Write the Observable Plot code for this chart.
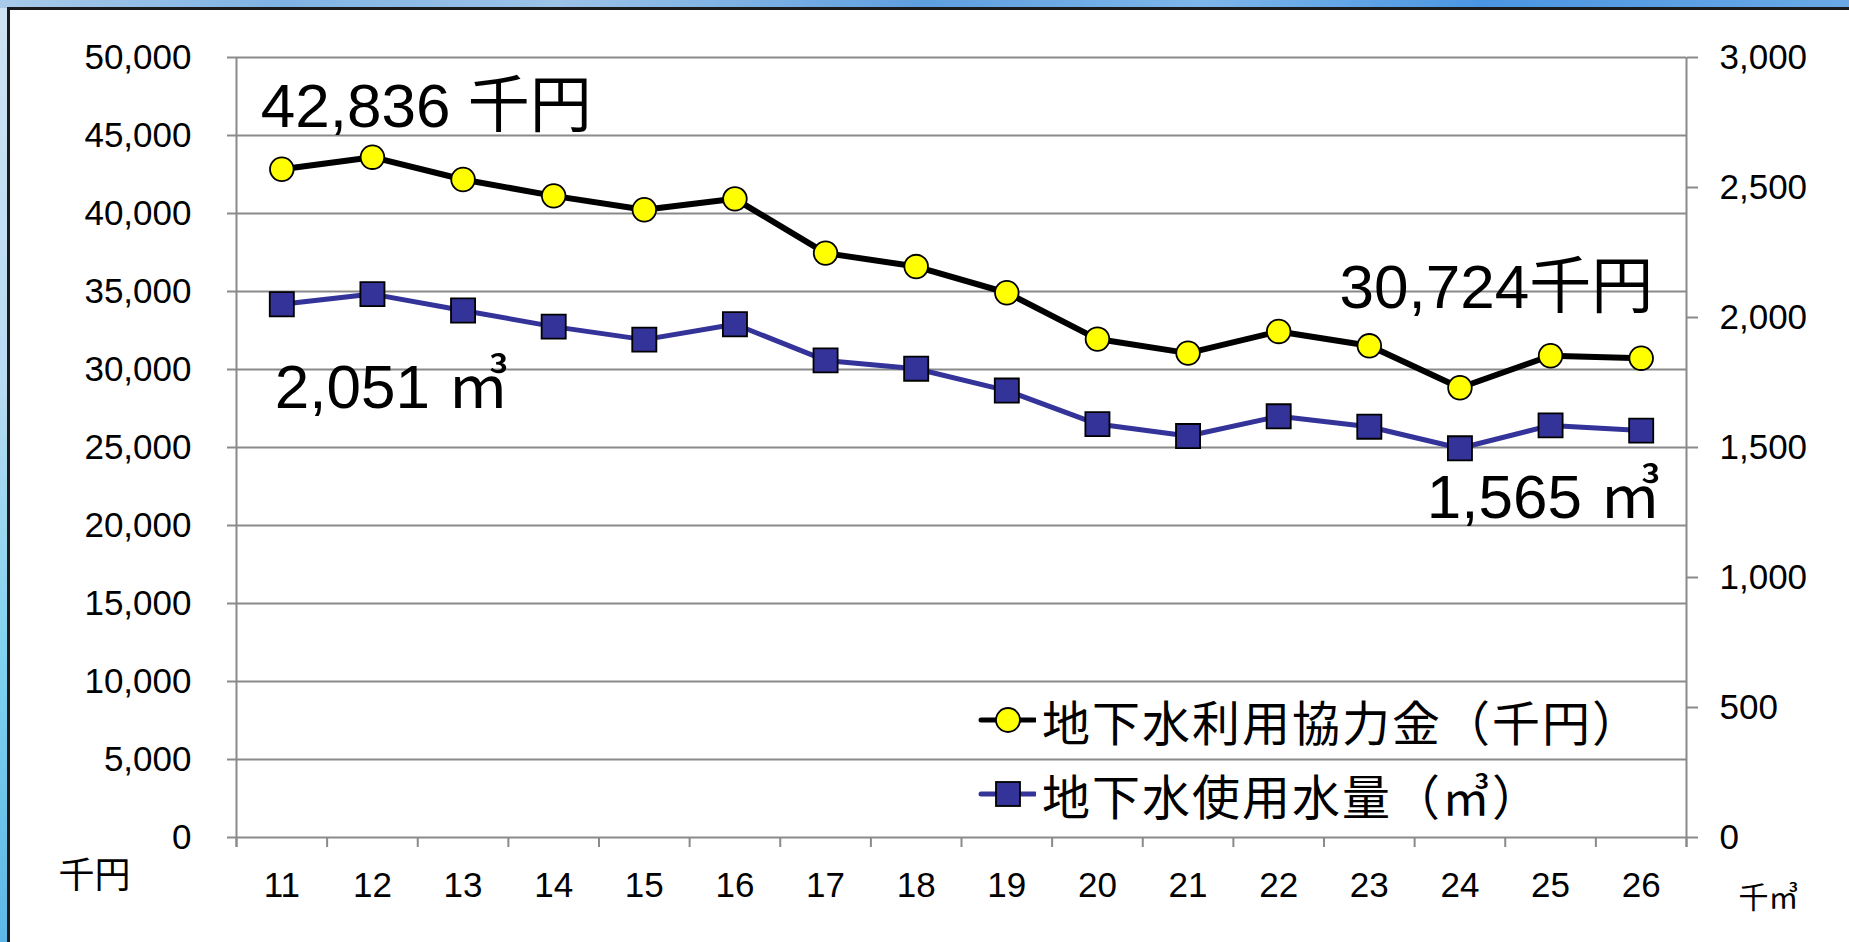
<!DOCTYPE html>
<html>
<head>
<meta charset="utf-8">
<script src="https://cdn.jsdelivr.net/npm/d3@7"></script>
<script src="https://cdn.jsdelivr.net/npm/@observablehq/plot@0.6"></script>
<style>
  html, body { margin: 0; padding: 0; }
  body { width: 1849px; height: 942px; overflow: hidden; background: linear-gradient(180deg, #cfe3f3 0%, #b9dbf2 40%, #7fd2ef 70%, #5db7e6 100%); }
  #wrap { position: relative; width: 1849px; height: 942px; }
  #topstrip { position: absolute; left: 0; top: 0; width: 1849px; height: 8px;
    background: linear-gradient(90deg, #a9cbe9 0%, #7fb3e4 15%, #9cc3e8 30%, #5e9fe0 50%, #7db6ea 65%, #4a95e2 80%, #6aa9e6 100%); }
  #frame { position: absolute; left: 7px; top: 7px; width: 1849px; height: 950px; background: #fff;
    border-top: 3px solid #1b1b1b; border-left: 3px solid #1b1b1b; }
  #chart { position: absolute; left: 0; top: 0; }
  #legend { position: absolute; left: 978px; top: 683px; font-family: 'Noto Sans CJK JP', sans-serif; font-size: 48px; letter-spacing: 2px; color: #000; }
  .row { display: flex; align-items: center; height: 74px; white-space: nowrap; }
  .row svg { flex: none; margin-right: 6px; }
</style>
</head>
<body>
<div id="wrap">
  <div id="topstrip"></div>
  <div id="frame"></div>
  <div id="chart"></div>
  <div id="legend"></div>
</div>
<script>
// ---- data ----
const years = [11, 12, 13, 14, 15, 16, 17, 18, 19, 20, 21, 22, 23, 24, 25, 26];
const feeValues = [42836, 43610, 42180, 41130, 40240, 40940, 37460, 36600, 34920, 31950, 31050, 32440, 31520, 28830, 30880, 30724];
const waterValues = [2051, 2090, 2027, 1965, 1915, 1974, 1835, 1803, 1719, 1590, 1544, 1620, 1580, 1497, 1585, 1565];
const leftTicks = [0, 5000, 10000, 15000, 20000, 25000, 30000, 35000, 40000, 45000, 50000];
const rightTicks = [0, 500, 1000, 1500, 2000, 2500, 3000];
const seriesNames = ["地下水利用協力金（千円）", "地下水使用水量（㎥）"];
const leftUnit = "千円";
const rightUnit = "千㎥";

// ---- derived ----
const leftMax = leftTicks[leftTicks.length - 1];
const rightMax = rightTicks[rightTicks.length - 1];
const k = leftMax / rightMax;
const fmt = d3.format(",");
const feeData = years.map((yr, i) => ({year: yr, value: feeValues[i]}));
const waterData = years.map((yr, i) => ({year: yr, value: waterValues[i] * k, raw: waterValues[i]}));
const boundaries = [...years.map(y => y - 0.5), years[years.length - 1] + 0.5];
const xDomain = [boundaries[0], boundaries[boundaries.length - 1]];

const grey = "#8a8a8a";
const FONT = "'Liberation Sans', Arial, 'Noto Sans CJK JP', sans-serif";
const lastI = years.length - 1;

const chart = Plot.plot({
  width: 1849,
  height: 942,
  marginLeft: 236,
  marginRight: 163,
  marginTop: 57,
  marginBottom: 105,
  style: {background: "transparent", fontFamily: FONT, fontSize: "35px", color: "#000", overflow: "visible"},
  x: {type: "linear", domain: xDomain},
  y: {domain: [0, leftMax]},
  marks: [
    Plot.gridY(leftTicks.slice(1), {stroke: grey, strokeOpacity: 1, strokeWidth: 2}),
    Plot.ruleY([0], {stroke: grey, strokeWidth: 2}),
    Plot.ruleX([xDomain[0]], {stroke: grey, strokeWidth: 2, insetBottom: -10}),
    Plot.ruleX([xDomain[1]], {stroke: grey, strokeWidth: 2, insetBottom: -10}),
    Plot.axisY(leftTicks, {anchor: "left", tickSize: 9, tickPadding: 36, tickFormat: fmt, label: null, stroke: grey, strokeWidth: 2, strokeOpacity: 1, fill: "#000"}),
    Plot.axisY(rightTicks.map(v => v * k), {anchor: "right", tickSize: 11, tickPadding: 22, tickFormat: d => fmt(Math.round(d / k)), label: null, stroke: grey, strokeWidth: 2, strokeOpacity: 1, fill: "#000"}),
    Plot.axisX(boundaries, {anchor: "bottom", tickSize: 10, tickFormat: () => "", label: null, stroke: grey, strokeWidth: 2, strokeOpacity: 1}),
    Plot.axisX(years, {anchor: "bottom", tickSize: 0, tickPadding: 35, tickFormat: d => String(d), label: null, fill: "#000"}),
    Plot.text([leftUnit], {frameAnchor: "bottom-left", text: d => d, dx: -178, dy: 50, textAnchor: "start", fontSize: 36, fontFamily: "'Noto Sans CJK JP', sans-serif", fill: "#000"}),
    Plot.text([rightUnit], {frameAnchor: "bottom-right", text: d => d, dx: 52, dy: 70, textAnchor: "start", fontSize: 30, fontFamily: "'Noto Sans CJK JP', sans-serif", fill: "#000"}),
    Plot.line(waterData, {x: "year", y: "value", stroke: "#333399", strokeWidth: 5}),
    Plot.dot(waterData, {x: "year", y: "value", symbol: "square", r: 13.6, fill: "#333399", stroke: "#000", strokeWidth: 1.8}),
    Plot.line(feeData, {x: "year", y: "value", stroke: "#000", strokeWidth: 6}),
    Plot.dot(feeData, {x: "year", y: "value", r: 11.8, fill: "#ffff00", stroke: "#000", strokeWidth: 1.8}),
    Plot.text([feeData[0]], {x: "year", y: "value", text: d => `${fmt(d.value)} ${leftUnit}`, textAnchor: "start", lineAnchor: "bottom", dx: -21, dy: -42, fontSize: 62, fill: "#000"}),
    Plot.text([feeData[lastI]], {x: "year", y: "value", text: d => `${fmt(d.value)}${leftUnit}`, textAnchor: "end", lineAnchor: "bottom", dx: 12, dy: -50, fontSize: 62, fill: "#000"}),
    Plot.text([waterData[0]], {x: "year", y: "value", text: d => `${fmt(d.raw)} ㎥`, textAnchor: "start", lineAnchor: "bottom", dx: -7, dy: 104, fontSize: 62, fill: "#000"}),
    Plot.text([waterData[lastI]], {x: "year", y: "value", text: d => `${fmt(d.raw)} ㎥`, textAnchor: "end", lineAnchor: "bottom", dx: 20, dy: 87, fontSize: 62, fill: "#000"})
  ]
});
document.getElementById("chart").appendChild(chart);

// ---- legend ----
const legend = document.getElementById("legend");
const legendStyles = [
  {line: "#000", shape: "circle", fill: "#ffff00"},
  {line: "#333399", shape: "square", fill: "#333399"}
];
seriesNames.forEach((name, i) => {
  const row = document.createElement("div");
  row.className = "row";
  const s = legendStyles[i];
  const svg = d3.create("svg").attr("width", 58).attr("height", 30);
  svg.append("line").attr("x1", 3).attr("x2", 57).attr("y1", 15).attr("y2", 15)
    .attr("stroke", s.line).attr("stroke-width", 5).attr("stroke-linecap", "round");
  if (s.shape === "circle") {
    svg.append("circle").attr("cx", 30).attr("cy", 15).attr("r", 12).attr("fill", s.fill).attr("stroke", "#000").attr("stroke-width", 1.8);
  } else {
    svg.append("rect").attr("x", 18).attr("y", 3).attr("width", 24).attr("height", 24).attr("fill", s.fill).attr("stroke", "#000").attr("stroke-width", 1.8);
  }
  row.appendChild(svg.node());
  const span = document.createElement("span");
  span.textContent = name;
  row.appendChild(span);
  legend.appendChild(row);
});
</script>
</body>
</html>
